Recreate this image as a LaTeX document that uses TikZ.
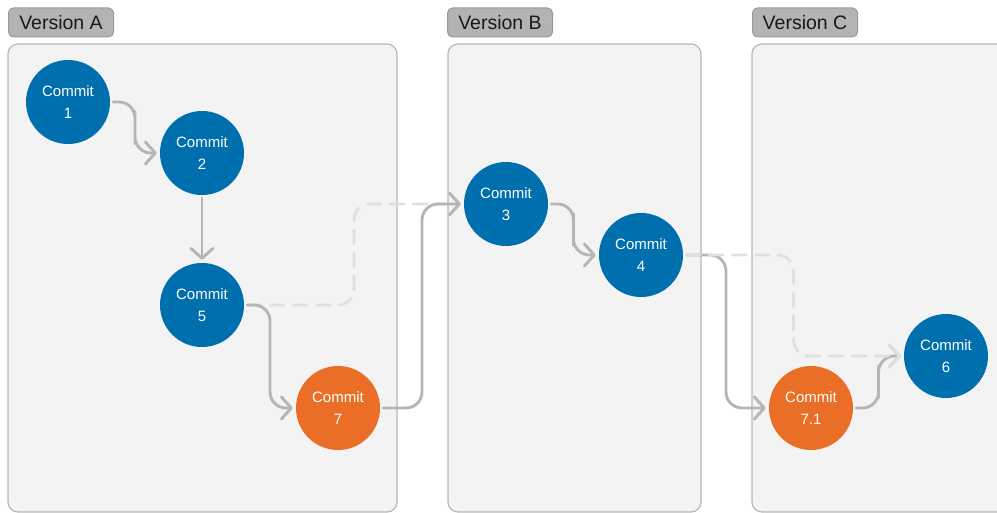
\documentclass[tikz,border=0pt]{standalone}
\usepackage{fontspec}
\setmainfont{Liberation Sans}
\usetikzlibrary{arrows.meta,calc}

\definecolor{commitblue}{HTML}{006FAD}
\definecolor{commitorange}{HTML}{EB6E27}
\definecolor{panelfill}{HTML}{F3F3F3}
\definecolor{panelline}{HTML}{B8B8B8}
\definecolor{tagfill}{HTML}{B3B3B3}
\definecolor{tagline}{HTML}{9A9A9A}
\definecolor{linkgray}{HTML}{B5B5B5}
\definecolor{ghostgray}{HTML}{E0E0E0}

\begin{document}
\begin{tikzpicture}[x=1pt,y=-1pt,
  panel/.style={draw=panelline, fill=panelfill, line width=1.2pt, rounded corners=10pt},
  tag/.style={draw=tagline, fill=tagfill, line width=1pt, rounded corners=5pt,
    minimum height=29pt, minimum width=105pt, inner xsep=0pt, text=black!90,
    font=\fontsize{19.5}{22}\selectfont},
  commit/.style={circle, minimum size=84pt, inner sep=0pt, text=white, align=center,
    font=\fontsize{15}{22}\selectfont},
  main/.style={commit, fill=commitblue},
  side/.style={commit, fill=commitorange},
  conn/.style={draw=linkgray, line width=2.9pt, line cap=round, line join=round,
    rounded corners=16pt, shorten >=3pt, shorten <=3pt,
    -{Straight Barb[length=10pt,width=22pt,line cap=round,line join=round]}},
  ghost/.style={conn, draw=ghostgray, dash pattern=on 14pt off 9pt},
  elbow/.style={to path={-| ($(\tikztostart)!.5!(\tikztotarget)$) |- (\tikztotarget)}}
]
\useasboundingbox (0,0) rectangle (997,513);
\clip (0,0) rectangle (997,513);

% version panels
\draw[panel] (8,44) rectangle (397,512);
\draw[panel] (448,44) rectangle (701,512);
\draw[panel] (752,44) rectangle (1040,512);

% version tags
\node[tag] (tagA) at (61,22.5) {Version A};
\node[tag] (tagB) at (500,22.5) {Version B};
\node[tag] (tagC) at (805,22.5) {Version C};

% commits
\node[main] (n1) at (68,102) {Commit\\1};
\node[main] (n2) at (202,153) {Commit\\2};
\node[main] (n5) at (202,305) {Commit\\5};
\node[side] (n7) at (338,408) {Commit\\7};
\node[main] (n3) at (506,204) {Commit\\3};
\node[main] (n4) at (641,255) {Commit\\4};
\node[side] (n71) at (811,408) {Commit\\7.1};
\node[main] (n6) at (946,356) {Commit\\6};

% history links
\draw[ghost] (n5.east) to[elbow] (n3.west);
\draw[conn] (n1.east) to[elbow] (n2.west);
\draw[conn] (n2) -- (n5);
\draw[conn] (n5.east) to[elbow] (n7.west);
\draw[conn] (n7.east) to[elbow] (n3.west);
\draw[conn] (n3.east) to[elbow] (n4.west);
\draw[conn] (n4.east) to[elbow] (n71.west);
\draw[conn] (n71.east) to[elbow] (n6.west);
\draw[ghost] (n4.east) to[elbow] (n6.west);
\end{tikzpicture}
\end{document}
